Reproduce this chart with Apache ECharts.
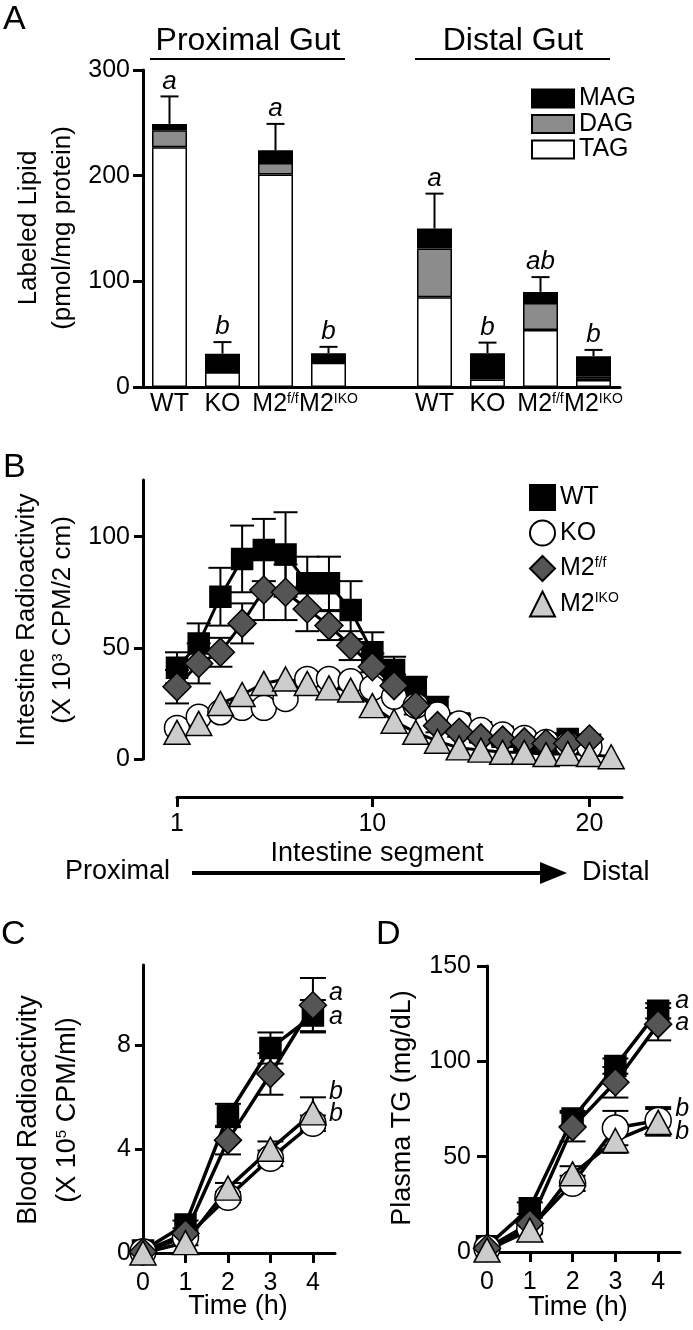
<!DOCTYPE html>
<html><head><meta charset="utf-8">
<script src="https://cdn.jsdelivr.net/npm/echarts@6/dist/echarts.min.js"></script>
<style>html,body{margin:0;padding:0;background:#fff}#c{width:693px;height:1330px}</style>
</head><body><div id="c"></div>
<script>
// ---------- Panel A data ----------
const aCategories = ['WT', 'KO', 'M2f/f', 'M2IKO', '', 'WT', 'KO', 'M2f/f', 'M2IKO'];
const aTAG = [227, 14, 201, 23, null, 85, 7, 54, 6.6];
const aDAG = [16, 0, 11, 0, null, 46, 2.5, 25.5, 3];
const aMAG = [6, 17.5, 12, 9, null, 19, 22.5, 10.5, 19.5];
const aErr = [26, 11, 25, 6, null, 33, 10, 14, 6];
const aLetters = ['a', 'b', 'a', 'b', '', 'a', 'b', 'ab', 'b'];
const aTicks = [0, 100, 200, 300];

// ---------- Panel B data ----------
const bSegWT = [1,2,3,4,5,6,7,8,9,10,11,12,13,14,15,16,17,18,19];
const bWT = [41,52,73,90,94,92,79,79,67,48,40,32,23,16,12,10,8,7,9];
const bWTerr = [7,9,13,15,14,19,12,12,13,9,6,5,5,4,3,2,2,2,2];
const bSegKO = [1,2,3,4,5,6,7,8,9,10,11,12,13,14,15,16,17,18,19,20];
const bKO = [14,19,21,23,23,27,36,36,35,32,28,24,20,16,13,11,9.5,7.7,6.5,5.5];
const bSegM2ff = [1,2,3,4,5,6,7,8,9,10,11,12,13,14,15,16,17,18,19,20];
const bM2ff = [32.5,43,48,61,76,75,67.5,60,51,41.5,33,24,15,12,9.5,8.5,7.7,7,7,9];
const bM2ffErr = [7.5,9,6.5,9,13.5,12.5,10,6.5,6.5,6,5,4,3,2,2,2,2,2,2,2];
const bSegM2IKO = [1,2,3,4,5,6,7,8,9,10,11,12,13,14,15,16,17,18,19,20,21];
const bM2IKO = [12,16,25,29,34,36,34,32,31,24,17,12,8,5,4,3,3,2,2.5,2,1];
const bYTicks = [0, 50, 100];
const bXTicks = [1, 10, 20];

// ---------- Panel C data ----------
const timeH = [0, 1, 2, 3, 4];
const cWT = [0.1, 1.1, 5.3, 7.9, 9.15];
const cWTerr = [0, 0.15, 0.45, 0.6, 0.6];
const cKO = [0.05, 0.6, 2.15, 3.65, 5.0];
const cKOerr = [0, 0.1, 0.2, 0.3, 0.3];
const cM2ff = [0.05, 0.75, 4.35, 6.9, 9.55];
const cM2ffErr = [0, 0.1, 0.55, 0.8, 1.05];
const cM2IKO = [0, 0.4, 2.5, 4.0, 5.4];
const cM2IKOerr = [0, 0.1, 0.2, 0.3, 0.6];
const cYTicks = [0, 4, 8];
const cLetters = ['a', 'a', 'b', 'b'];
const cLetterT = [4.38, 4.38, 4.38, 4.38];
const cLetterV = [10.0, 9.1, 6.2, 5.35];

// ---------- Panel D data ----------
const dWT = [3, 23, 70, 97.5, 126.5];
const dWTerr = [0, 3, 4, 4, 4];
const dKO = [2, 12.5, 36, 65, 69];
const dKOerr = [0, 2, 4, 9, 7];
const dM2ff = [2, 15, 65.5, 89, 119.5];
const dM2ffErr = [0, 3, 7.5, 8, 8.5];
const dM2IKO = [1, 11.5, 41, 58.5, 68];
const dM2IKOerr = [0, 2, 4, 6.5, 7];
const dYTicks = [0, 50, 100, 150];
const dLetters = ['a', 'a', 'b', 'b'];
const dLetterT = [4.4, 4.4, 4.4, 4.4];
const dLetterV = [131.7, 120, 75, 62.7];

// ---------- helpers ----------
const FF = '"Liberation Sans", Arial, Helvetica, sans-serif';
const supRich = { s: { fontSize: 14, fontFamily: FF, color: '#000', fill: '#000', verticalAlign: 'top' } };
function supFmt(n) { return n.indexOf('M2') === 0 ? 'M2{s|' + n.slice(2) + '}' : n; }

function axisLineStyle() { return { show: true, onZero: false, lineStyle: { color: '#000', width: 3 } }; }

function errRender(cap) {
  return function (params, api) {
    const x = api.value(0), y = api.value(1), e = api.value(2);
    if (!e) return null;
    const lo = api.coord([x, y - e]), hi = api.coord([x, y + e]);
    const st = { stroke: '#000', lineWidth: 2 };
    return { type: 'group', children: [
      { type: 'line', shape: { x1: lo[0], y1: lo[1], x2: hi[0], y2: hi[1] }, style: st },
      { type: 'line', shape: { x1: hi[0] - cap, y1: hi[1], x2: hi[0] + cap, y2: hi[1] }, style: st },
      { type: 'line', shape: { x1: lo[0] - cap, y1: lo[1], x2: lo[0] + cap, y2: lo[1] }, style: st }
    ]};
  };
}
function errSeries(gi, xs, ys, es, cap) {
  return { type: 'custom', xAxisIndex: gi, yAxisIndex: gi, z: 1, clip: false,
    data: xs.map((x, i) => [x, ys[i], es[i]]), encode: { x: 0, y: 1 },
    renderItem: errRender(cap), silent: true };
}
function lineSeries(name, gi, xs, ys, sym, size, fill, lw) {
  return { type: 'line', name, xAxisIndex: gi, yAxisIndex: gi, z: 3,
    data: xs.map((x, i) => [x, ys[i]]), symbol: sym, symbolSize: size, showSymbol: true,
    showAllSymbol: true, clip: false, lineStyle: { color: '#000', width: lw },
    itemStyle: { color: fill, borderColor: '#000', borderWidth: 1.5 },
    emphasis: { disabled: true }, silent: true };
}
function letterSeries(gi, xs, ys, letters) {
  return { type: 'custom', xAxisIndex: gi, yAxisIndex: gi, z: 5, clip: false,
    data: xs.map((x, i) => [x, ys[i]]), encode: { x: 0, y: 1 }, silent: true,
    renderItem: function (params, api) {
      const p = api.coord([api.value(0), api.value(1)]);
      return { type: 'text', x: p[0], y: p[1], style: { text: letters[params.dataIndex],
        fontSize: 25, fontStyle: 'italic', fontFamily: FF, fill: '#000',
        align: 'left', verticalAlign: 'middle', textAlign: 'left', textVerticalAlign: 'middle' } };
    } };
}

const COL = { WT: '#000', KO: '#fff', M2ff: '#555555', M2IKO: '#cccccc' };

// ---------- axes ----------
const xAxes = [
  { gridIndex: 0, type: 'category', data: aCategories, axisLine: axisLineStyle(), axisTick: { show: false },
    axisLabel: { interval: 0, margin: 5, fontSize: 25, fontFamily: FF, color: '#000', formatter: supFmt, rich: supRich } },
  { gridIndex: 1, type: 'value', min: 1, max: 21.5, offset: 38, axisLine: axisLineStyle(),
    axisTick: { show: true, length: 10, lineStyle: { width: 3, color: '#000' }, customValues: bXTicks },
    axisLabel: { margin: 15, fontSize: 25, fontFamily: FF, color: '#000', customValues: bXTicks }, splitLine: { show: false } },
  { gridIndex: 2, type: 'value', min: 0, max: 4.52, axisLine: axisLineStyle(),
    axisTick: { show: true, length: 10, lineStyle: { width: 3, color: '#000' }, customValues: timeH },
    axisLabel: { margin: 18, fontSize: 25, fontFamily: FF, color: '#000', customValues: timeH }, splitLine: { show: false } },
  { gridIndex: 3, type: 'value', min: 0, max: 4.51, axisLine: axisLineStyle(),
    axisTick: { show: true, length: 10, lineStyle: { width: 3, color: '#000' }, customValues: timeH },
    axisLabel: { margin: 18, fontSize: 25, fontFamily: FF, color: '#000', customValues: timeH }, splitLine: { show: false } }
];
const yAxes = [
  { gridIndex: 0, type: 'value', min: 0, max: 300, axisLine: axisLineStyle(),
    axisTick: { show: true, length: 10, lineStyle: { width: 3, color: '#000' }, customValues: aTicks },
    axisLabel: { margin: 13, fontSize: 25, fontFamily: FF, color: '#000', customValues: aTicks }, splitLine: { show: false } },
  { gridIndex: 1, type: 'value', min: 0, max: 125.5, offset: 34, axisLine: axisLineStyle(),
    axisTick: { show: true, length: 9, lineStyle: { width: 3, color: '#000' }, customValues: bYTicks },
    axisLabel: { margin: 13, fontSize: 25, fontFamily: FF, color: '#000', customValues: bYTicks }, splitLine: { show: false } },
  { gridIndex: 2, type: 'value', min: 0, max: 11.1, axisLine: axisLineStyle(),
    axisTick: { show: true, length: 8, lineStyle: { width: 3, color: '#000' }, customValues: cYTicks },
    axisLabel: { margin: 12, fontSize: 25, fontFamily: FF, color: '#000', customValues: cYTicks }, splitLine: { show: false } },
  { gridIndex: 3, type: 'value', min: 0, max: 150, axisLine: axisLineStyle(),
    axisTick: { show: true, length: 10, lineStyle: { width: 3, color: '#000' }, customValues: dYTicks },
    axisLabel: { margin: 16, fontSize: 25, fontFamily: FF, color: '#000', customValues: dYTicks }, splitLine: { show: false } }
];

// ---------- series ----------
const barBase = { type: 'bar', stack: 'lipid', xAxisIndex: 0, yAxisIndex: 0, barWidth: 35, silent: true,
  emphasis: { disabled: true } };
const aTotals = aTAG.map((v, i) => v == null ? null : v + aDAG[i] + aMAG[i]);

const series = [
  Object.assign({}, barBase, { name: 'TAG', data: aTAG, itemStyle: { color: '#fff', borderColor: '#000', borderWidth: 1.5 } }),
  Object.assign({}, barBase, { name: 'DAG', data: aDAG, itemStyle: { color: '#8c8c8c', borderColor: '#000', borderWidth: 1.5 } }),
  Object.assign({}, barBase, { name: 'MAG', data: aMAG, itemStyle: { color: '#000', borderColor: '#000', borderWidth: 1.5 } }),
  { type: 'custom', xAxisIndex: 0, yAxisIndex: 0, z: 4, silent: true, clip: false,
    data: aTotals.map((v, i) => [i, v, aErr[i]]), encode: { x: 0, y: 1 },
    renderItem: function (params, api) {
      const i = params.dataIndex;
      if (aTotals[i] == null) return null;
      const top = api.coord([i, aTotals[i]]), hi = api.coord([i, aTotals[i] + aErr[i]]);
      const st = { stroke: '#000', lineWidth: 2 };
      return { type: 'group', children: [
        { type: 'line', shape: { x1: top[0], y1: top[1], x2: hi[0], y2: hi[1] }, style: st },
        { type: 'line', shape: { x1: hi[0] - 9, y1: hi[1], x2: hi[0] + 9, y2: hi[1] }, style: st },
        { type: 'text', x: hi[0], y: hi[1] - 2, style: { text: aLetters[i], fontSize: 26, fontStyle: 'italic',
          fontFamily: FF, fill: '#000', align: 'center', verticalAlign: 'bottom', textAlign: 'center', textVerticalAlign: 'bottom' } }
      ]};
    } },

  // Panel B
  errSeries(1, bSegWT, bWT, bWTerr, 12),
  errSeries(1, bSegM2ff, bM2ff, bM2ffErr, 12),
  lineSeries('WT', 1, bSegWT, bWT, 'rect', 21, COL.WT, 3),
  lineSeries('KO', 1, bSegKO, bKO, 'circle', 25, COL.KO, 3),
  lineSeries('M2f/f', 1, bSegM2ff, bM2ff, 'diamond', 28, COL.M2ff, 3),
  lineSeries('M2IKO', 1, bSegM2IKO, bM2IKO, 'triangle', [26, 24], COL.M2IKO, 3),

  // Panel C
  errSeries(2, timeH, cWT, cWTerr, 13),
  errSeries(2, timeH, cKO, cKOerr, 13),
  errSeries(2, timeH, cM2ff, cM2ffErr, 13),
  errSeries(2, timeH, cM2IKO, cM2IKOerr, 13),
  lineSeries('WT', 2, timeH, cWT, 'rect', 21, COL.WT, 3.5),
  lineSeries('KO', 2, timeH, cKO, 'circle', 26, COL.KO, 3.5),
  lineSeries('M2f/f', 2, timeH, cM2ff, 'diamond', 27, COL.M2ff, 3.5),
  lineSeries('M2IKO', 2, timeH, cM2IKO, 'triangle', [26, 24], COL.M2IKO, 3.5),
  letterSeries(2, cLetterT, cLetterV, cLetters),

  // Panel D
  errSeries(3, timeH, dWT, dWTerr, 13),
  errSeries(3, timeH, dKO, dKOerr, 13),
  errSeries(3, timeH, dM2ff, dM2ffErr, 13),
  errSeries(3, timeH, dM2IKO, dM2IKOerr, 13),
  lineSeries('WT', 3, timeH, dWT, 'rect', 21, COL.WT, 3.5),
  lineSeries('KO', 3, timeH, dKO, 'circle', 26, COL.KO, 3.5),
  lineSeries('M2f/f', 3, timeH, dM2ff, 'diamond', 27, COL.M2ff, 3.5),
  lineSeries('M2IKO', 3, timeH, dM2IKO, 'triangle', [26, 24], COL.M2IKO, 3.5),
  letterSeries(3, dLetterT, dLetterV, dLetters)
];

// ---------- graphic (titles, headers, arrow) ----------
function txt(text, x, y, size, o) {
  o = o || {};
  return { type: 'text', x: x, y: y, rotation: o.rot || 0, silent: true, z: 10,
    style: { text: text, x: 0, y: 0, fontSize: size, fontFamily: FF, fill: '#000',
      fontStyle: o.italic ? 'italic' : 'normal',
      align: o.align || 'left', textAlign: o.align || 'left', verticalAlign: 'middle', textVerticalAlign: 'middle',
      rich: { s: { fontSize: 15, fontFamily: FF, fill: '#000', verticalAlign: 'top' } } } };
}
const R = Math.PI / 2;
const graphics = [
  txt('A', 3, 20, 34), txt('B', 3, 468, 34), txt('C', 1, 935, 34), txt('D', 376, 935, 34),
  txt('Proximal Gut', 248, 41, 32, { align: 'center' }),
  txt('Distal Gut', 513, 41, 32, { align: 'center' }),
  { type: 'line', shape: { x1: 150, y1: 59, x2: 345, y2: 59 }, style: { stroke: '#000', lineWidth: 2 } },
  { type: 'line', shape: { x1: 415, y1: 59, x2: 610, y2: 59 }, style: { stroke: '#000', lineWidth: 2 } },
  txt('Labeled Lipid', 29, 228, 26, { rot: R, align: 'center' }),
  txt('(pmol/mg protein)', 63, 228, 26, { rot: R, align: 'center' }),
  txt('Intestine Radioactivity', 27, 620, 26, { rot: R, align: 'center' }),
  txt('(X 10{s|3} CPM/2 cm)', 63, 620, 26, { rot: R, align: 'center' }),
  txt('Intestine segment', 377, 854, 27, { align: 'center' }),
  txt('Proximal', 65, 872, 27),
  txt('Distal', 582, 873, 27),
  { type: 'line', shape: { x1: 192, y1: 873, x2: 545, y2: 873 }, style: { stroke: '#000', lineWidth: 4 } },
  { type: 'polygon', shape: { points: [[540, 862], [567, 873], [540, 884]] }, style: { fill: '#000' } },
  txt('Blood Radioactivity', 29, 1110, 27, { rot: R, align: 'center' }),
  txt('(X 10{s|5} CPM/ml)', 68, 1110, 27, { rot: R, align: 'center' }),
  txt('Plasma TG (mg/dL)', 403, 1108, 27, { rot: R, align: 'center' }),
  txt('Time (h)', 238, 1307, 27, { align: 'center' }),
  txt('Time (h)', 578, 1308, 27, { align: 'center' })
];

const chart = echarts.init(document.getElementById('c'), null, { renderer: 'canvas' });
chart.setOption({
  animation: false,
  backgroundColor: '#fff',
  grid: [
    { left: 143, top: 70, width: 477, height: 317 },
    { left: 177, top: 480, width: 445, height: 279 },
    { left: 143, top: 965, width: 192, height: 288 },
    { left: 487, top: 966, width: 193, height: 286 }
  ],
  xAxis: xAxes,
  yAxis: yAxes,
  legend: [
    { data: [{ name: 'MAG', icon: 'rect' }, { name: 'DAG', icon: 'rect' }, { name: 'TAG', icon: 'rect' }],
      orient: 'vertical', left: 531, top: 86, itemWidth: 42, itemHeight: 18, itemGap: 0.5, selectedMode: false,
      padding: 0, textStyle: { fontSize: 25, fontFamily: FF, color: '#000' } },
    { data: [{ name: 'WT', icon: 'rect' }, { name: 'KO', icon: 'circle' }, { name: 'M2f/f', icon: 'diamond' }, { name: 'M2IKO', icon: 'triangle' }],
      orient: 'vertical', left: 529, top: 484, itemWidth: 25, itemHeight: 25, itemGap: 8.5, selectedMode: false,
      padding: 0, formatter: supFmt, textStyle: { fontSize: 25, fontFamily: FF, color: '#000', rich: supRich } }
  ],
  series: series,
  graphic: graphics
});
</script></body></html>
